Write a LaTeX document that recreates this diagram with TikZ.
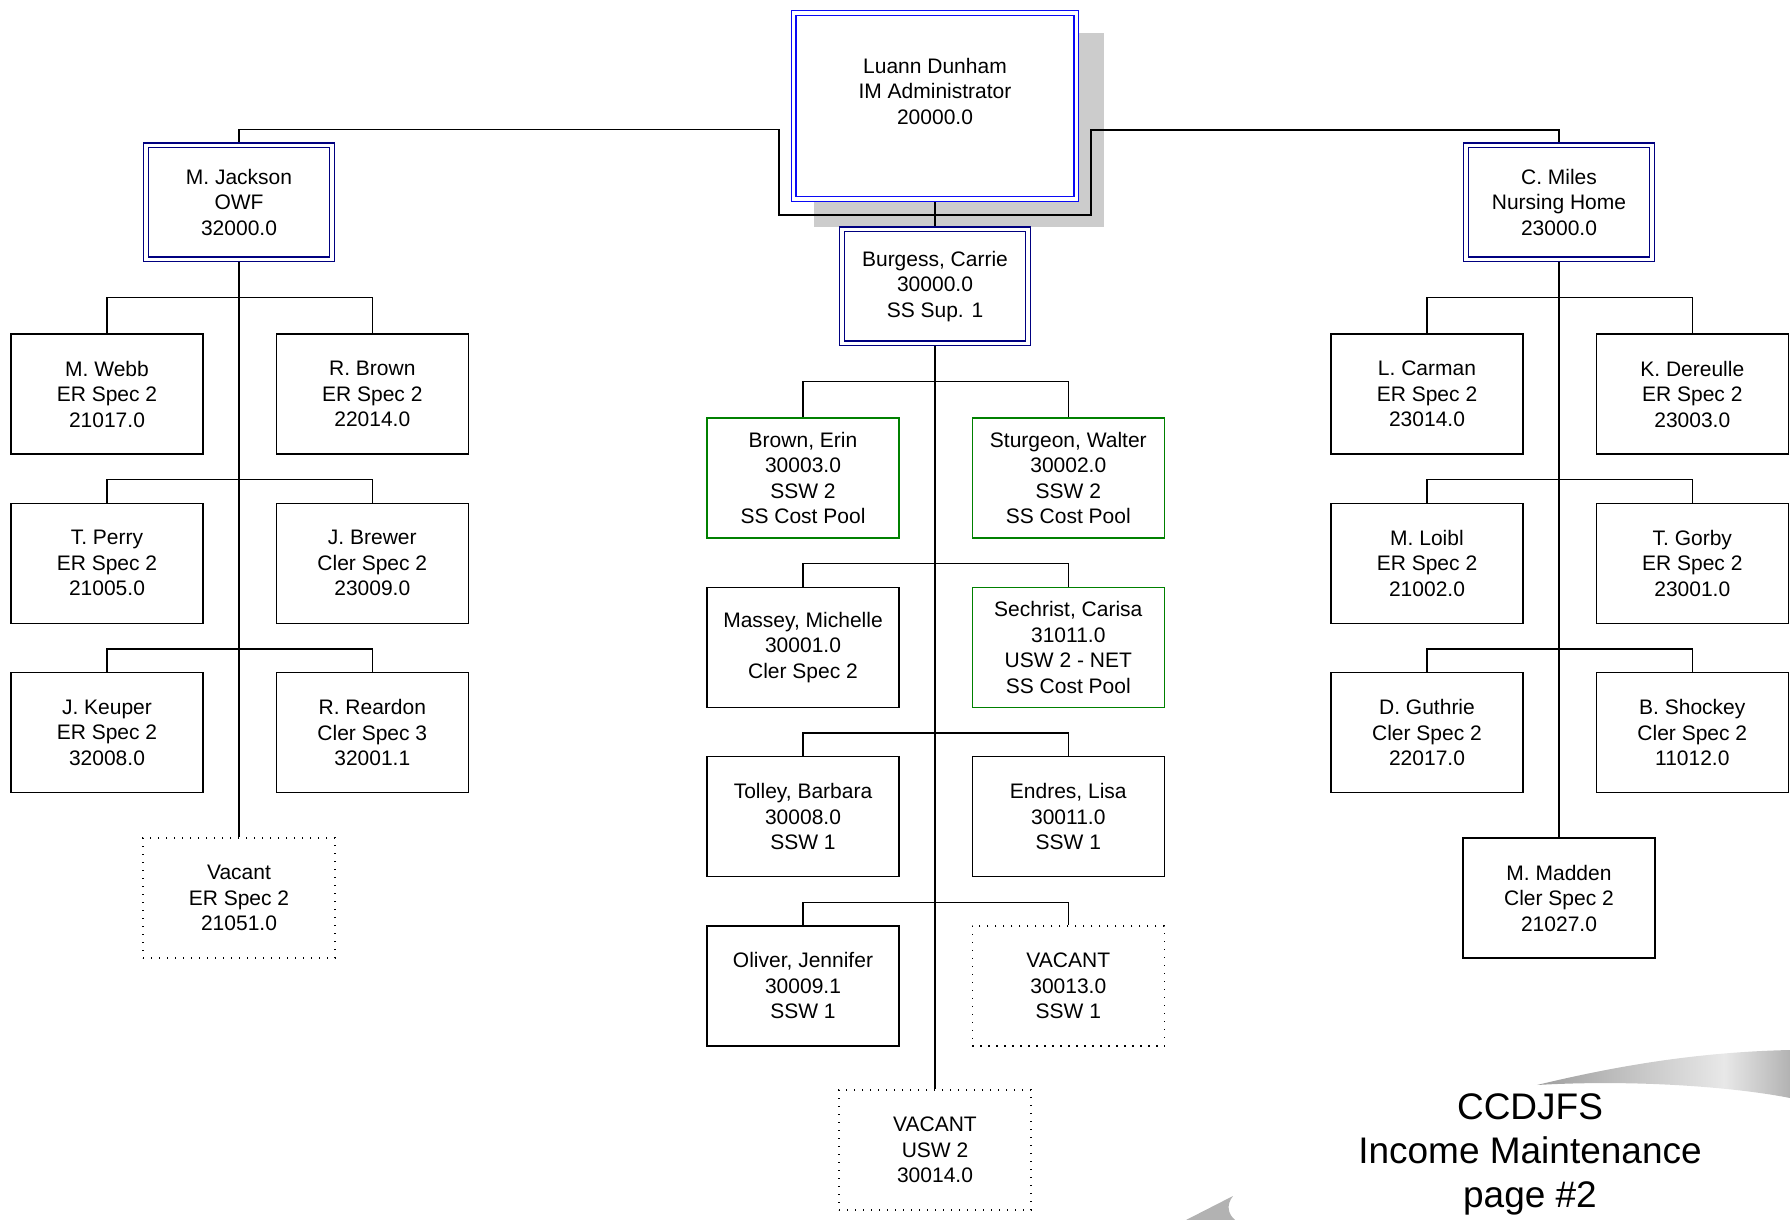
\documentclass[tikz,border=0pt]{standalone}
\usepackage{fontspec}
\setmainfont{Liberation Sans}
\usetikzlibrary{positioning,backgrounds}
\definecolor{mnavy}{RGB}{0,0,128}
\definecolor{mblue}{RGB}{10,10,245}
\definecolor{mgreen}{RGB}{0,128,0}
\definecolor{mshadow}{RGB}{204,204,204}
\newcommand\orgfont{\fontsize{10.5}{12.75}\selectfont}
\newcommand\titlefont{\fontsize{18.5}{22}\selectfont}
\pgfdeclarehorizontalshading{swoosh}{100bp}{color(0bp)=(black!38); color(25bp)=(black!38); color(62bp)=(black!9); color(75bp)=(black!30); color(100bp)=(black!30)}

\begin{document}
\begin{tikzpicture}[
    x=0.5pt, y=-0.5pt,
    box_staff/.style={rectangle, draw=black, fill=white, line width=0.65pt, minimum width=96pt, minimum height=60pt, inner sep=0pt, align=center, font=\orgfont},
    box_pool/.style={box_staff, draw=mgreen},
    box_vacant/.style={box_staff, dash pattern=on 0.6pt off 3.4pt},
    box_sup/.style={box_staff, draw=mnavy, double, double distance=1.7pt, minimum width=93pt, minimum height=57pt},
    box_head/.style={box_sup, draw=mblue, minimum width=141.3pt, minimum height=93pt},
    line_org/.style={line width=0.65pt},
    ]
\useasboundingbox (0,0) rectangle (1790,1220);

\node[box_head] (dunham) at (935,106) {Luann Dunham\\IM Administrator\\20000.0\\[2pt]\mbox{}};
\node[box_sup] (jackson) at (239,202.3) {M. Jackson\\OWF\\32000.0};
\node[box_sup] (miles) at (1559,202.3) {C. Miles\\Nursing Home\\23000.0};
\node[box_sup] (burgess) at (935,286.3) {Burgess, Carrie\\30000.0\\SS Sup. 1};

\node[box_staff] (webb) at (107,394) {M. Webb\\ER Spec 2\\21017.0};
\node[box_staff, right=36pt of webb] (rbrown) {R. Brown\\ER Spec 2\\22014.0};
\node[box_staff, below=24pt of webb] (perry) {T. Perry\\ER Spec 2\\21005.0};
\node[box_staff, right=36pt of perry] (brewer) {J. Brewer\\Cler Spec 2\\23009.0};
\node[box_staff, below=24pt of perry] (keuper) {J. Keuper\\ER Spec 2\\32008.0};
\node[box_staff, right=36pt of keuper] (reardon) {R. Reardon\\Cler Spec 3\\32001.1};
\node[box_vacant] (vacant_er) at (239,898) {Vacant\\ER Spec 2\\21051.0};

\node[box_pool] (ebrown) at (803,478) {Brown, Erin\\30003.0\\SSW 2\\SS Cost Pool};
\node[box_pool, right=36pt of ebrown] (sturgeon) {Sturgeon, Walter\\30002.0\\SSW 2\\SS Cost Pool};
\node[box_staff, below=24pt of ebrown] (massey) {Massey, Michelle\\30001.0\\Cler Spec 2};
\node[box_pool, right=36pt of massey] (sechrist) {Sechrist, Carisa\\31011.0\\USW 2 - NET\\SS Cost Pool};
\node[box_staff, below=24pt of massey] (tolley) {Tolley, Barbara\\30008.0\\SSW 1};
\node[box_staff, right=36pt of tolley] (endres) {Endres, Lisa\\30011.0\\SSW 1};
\node[box_staff, below=24pt of tolley] (oliver) {Oliver, Jennifer\\30009.1\\SSW 1};
\node[box_vacant, right=36pt of oliver] (vacant_ssw) {VACANT\\30013.0\\SSW 1};
\node[box_vacant] (vacant_usw) at (935,1150) {VACANT\\USW 2\\30014.0};

\node[box_staff] (carman) at (1427,394) {L. Carman\\ER Spec 2\\23014.0};
\node[box_staff, right=36pt of carman] (dereulle) {K. Dereulle\\ER Spec 2\\23003.0};
\node[box_staff, below=24pt of carman] (loibl) {M. Loibl\\ER Spec 2\\21002.0};
\node[box_staff, right=36pt of loibl] (gorby) {T. Gorby\\ER Spec 2\\23001.0};
\node[box_staff, below=24pt of loibl] (guthrie) {D. Guthrie\\Cler Spec 2\\22017.0};
\node[box_staff, right=36pt of guthrie] (shockey) {B. Shockey\\Cler Spec 2\\11012.0};
\node[box_staff] (madden) at (1559,898) {M. Madden\\Cler Spec 2\\21027.0};

\node[align=center, font=\titlefont] (title) at (1530,1154) {CCDJFS\\Income Maintenance\\page \#2};

\coordinate (bar_left) at (779,215);
\coordinate (bar_right) at (1091,215);

\begin{pgfonlayer}{background}
\fill[mshadow] ([shift={(21,21)}]dunham.north west) rectangle ([shift={(27,27)}]dunham.south east);
\shade[shading=swoosh] (1537,1085) .. controls (1620,1065) and (1700,1052) .. (1790,1050) -- (1790,1098) .. controls (1740,1088) and (1640,1079) .. (1537,1085) -- cycle;
\fill[black!30] (1186,1220) -- (1233,1196) .. controls (1226,1205) and (1228,1214) .. (1235,1220) -- cycle;

\draw[line_org] (jackson.north) -- ++(0,-15) -| (bar_left) -- (bar_right) -- ++(0,-85) -| (miles.north);
\draw[line_org] (dunham.south) -- (burgess.north);

\draw[line_org] (jackson.south) -- (vacant_er.north);
\draw[line_org] (webb.north) -- ++(0,-36) -| (rbrown.north);
\draw[line_org] (perry.north) -- ++(0,-23) -| (brewer.north);
\draw[line_org] (keuper.north) -- ++(0,-23) -| (reardon.north);

\draw[line_org] (burgess.south) -- (vacant_usw.north);
\draw[line_org] (ebrown.north) -- ++(0,-36) -| (sturgeon.north);
\draw[line_org] (massey.north) -- ++(0,-23) -| (sechrist.north);
\draw[line_org] (tolley.north) -- ++(0,-23) -| (endres.north);
\draw[line_org] (oliver.north) -- ++(0,-23) -| (vacant_ssw.north);

\draw[line_org] (miles.south) -- (madden.north);
\draw[line_org] (carman.north) -- ++(0,-36) -| (dereulle.north);
\draw[line_org] (loibl.north) -- ++(0,-23) -| (gorby.north);
\draw[line_org] (guthrie.north) -- ++(0,-23) -| (shockey.north);
\end{pgfonlayer}

\end{tikzpicture}
\end{document}
